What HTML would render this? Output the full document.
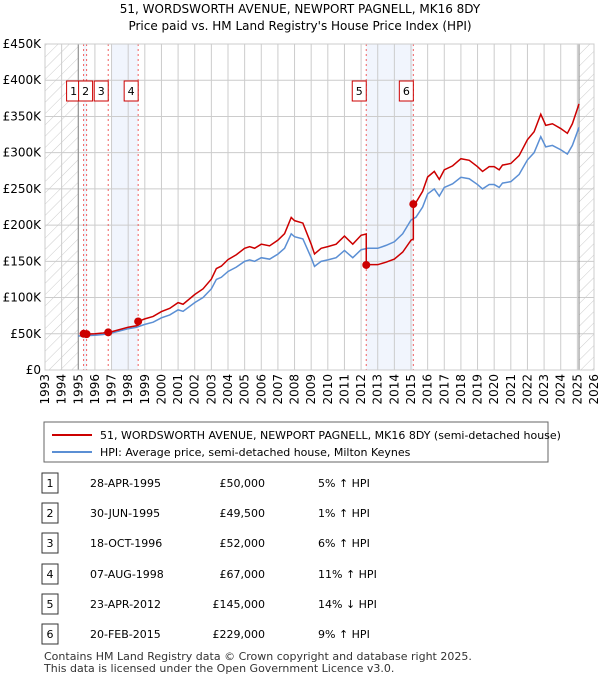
<!DOCTYPE html>
<html><head><meta charset="utf-8"><style>
body{margin:0;background:#fff;font-family:"Liberation Sans","DejaVu Sans",sans-serif;}
svg text{font-family:"DejaVu Sans","Liberation Sans",sans-serif;}
</style></head><body>
<svg width="600" height="680" xmlns="http://www.w3.org/2000/svg" id="c">
<defs><pattern id="hatch" width="8" height="8" patternUnits="userSpaceOnUse" patternTransform="rotate(45)"><line x1="0" y1="0" x2="0" y2="8" stroke="#ccc" stroke-width="1"/></pattern></defs>
<text x="300" y="13" text-anchor="middle" font-size="12">51, WORDSWORTH AVENUE, NEWPORT PAGNELL, MK16 8DY</text>
<text x="300" y="30" text-anchor="middle" font-size="12">Price paid vs. HM Land Registry's House Price Index (HPI)</text>
<g id="plot"></g>
<g>
<rect x="44" y="422" width="504" height="40" fill="#fff" stroke="#666"/>
<line x1="52" y1="435" x2="92" y2="435" stroke="#cc0000" stroke-width="2"/>
<text x="100" y="439" font-size="11">51, WORDSWORTH AVENUE, NEWPORT PAGNELL, MK16 8DY (semi-detached house)</text>
<line x1="52" y1="452" x2="92" y2="452" stroke="#5b8fd4" stroke-width="2"/>
<text x="100" y="456" font-size="11">HPI: Average price, semi-detached house, Milton Keynes</text>
</g>
<g id="table" font-size="11"></g>
<text x="44" y="660" font-size="11" fill="#333">Contains HM Land Registry data © Crown copyright and database right 2025.</text>
<text x="44" y="672" font-size="11" fill="#333">This data is licensed under the Open Government Licence v3.0.</text>
</svg>
<script>
const hpiYears=[1995,1995.5,1996,1996.5,1997,1997.5,1998,1998.5,1999,1999.5,2000,2000.5,2001,2001.3,2002,2002.5,2003,2003.3,2003.6,2004,2004.5,2005,2005.3,2005.6,2006,2006.5,2007,2007.4,2007.8,2008,2008.5,2009,2009.2,2009.6,2010,2010.5,2011,2011.5,2012,2012.4,2013,2013.5,2014,2014.5,2015,2015.3,2015.7,2016,2016.4,2016.7,2017,2017.5,2018,2018.5,2019,2019.3,2019.7,2020,2020.3,2020.5,2021,2021.5,2022,2022.4,2022.8,2023.1,2023.5,2024,2024.4,2024.7,2025.1];
const hpiValues=[47000,47500,48000,49000,51000,54000,57000,59000,63000,66000,72000,76000,83000,81000,93000,100000,112000,125000,128000,136000,142000,150000,152000,150000,155000,153000,160000,168000,188000,184000,181000,155000,143000,150000,152000,155000,165000,155000,166000,168000,168000,172000,177000,188000,207000,211000,225000,243000,250000,240000,252000,257000,266000,264000,256000,250000,256000,256000,252000,258000,260000,270000,290000,300000,322000,308000,310000,304000,298000,310000,335000];
const saleYears=[1995.32,1995.5,1996.8,1998.6,2012.31,2015.14];
const salePrices=[50000,49500,52000,67000,145000,229000];
const saleDates=["28-APR-1995","30-JUN-1995","18-OCT-1996","07-AUG-1998","23-APR-2012","20-FEB-2015"];
const salePriceLabels=["£50,000","£49,500","£52,000","£67,000","£145,000","£229,000"];
const saleHpiLabels=["5% ↑ HPI","1% ↑ HPI","6% ↑ HPI","11% ↑ HPI","14% ↓ HPI","9% ↑ HPI"];
const yTicks=[0,50000,100000,150000,200000,250000,300000,350000,400000,450000];
const yTickLabels=["£0","£50K","£100K","£150K","£200K","£250K","£300K","£350K","£400K","£450K"];
const xTicks=[];for(let y=1993;y<=2026;y++)xTicks.push(y);

const L=45,R=594,T=44,B=370,x0=1993,x1=2026,yMax=450000;
const X=t=>L+(t-x0)/(x1-x0)*(R-L);
const Y=v=>B-v/yMax*(B-T);
const NS="http://www.w3.org/2000/svg";
const plot=document.getElementById('plot');
function mk(tag,attrs,parent){const e=document.createElementNS(NS,tag);for(const k in attrs)e.setAttribute(k,attrs[k]);(parent||plot).appendChild(e);return e;}
function hpiAt(t){for(let i=0;i<hpiYears.length-1;i++){if(t>=hpiYears[i]&&t<=hpiYears[i+1]){const f=(t-hpiYears[i])/(hpiYears[i+1]-hpiYears[i]);return hpiValues[i]+f*(hpiValues[i+1]-hpiValues[i]);}}return hpiValues[hpiValues.length-1];}

// backgrounds
let e=mk('rect',{x:L,y:T,width:X(1995)-L,height:B-T,fill:'url(#hatch)'});

e=mk('rect',{x:X(2025.1),y:T,width:R-X(2025.1),height:B-T,fill:'url(#hatch)'});

const bands=[[saleYears[0],saleYears[1]],[1997.0,saleYears[3]],[saleYears[4],saleYears[5]]];
bands.forEach(b=>{e=mk('rect',{x:X(b[0]),y:T,width:X(b[1])-X(b[0]),height:B-T,fill:'#eef3fc',opacity:0.8});
});
// grid
yTicks.forEach((v,i)=>{e=mk('line',{x1:L,x2:R,y1:Y(v),y2:Y(v),stroke:'#ccc'});

e=mk('text',{x:L-4,y:Y(v)+4,'text-anchor':'end','font-size':12});e.textContent=yTickLabels[i];
});
xTicks.forEach(t=>{e=mk('line',{x1:X(t),x2:X(t),y1:T,y2:B,stroke:'#ccc'});

e=mk('text',{x:0,y:0,'text-anchor':'end','font-size':12,transform:`translate(${X(t)+4},${B+4}) rotate(-90)`});e.textContent=t;
});
e=mk('line',{x1:X(1995),x2:X(1995),y1:T,y2:B,stroke:'#888'});
e=mk('line',{x1:X(2025.1),x2:X(2025.1),y1:T,y2:B,stroke:'#888'});
// sale vlines
saleYears.forEach(t=>{e=mk('line',{x1:X(t),x2:X(t),y1:T,y2:B,stroke:'#f06060','stroke-dasharray':'2,3'});
});
// hpi line
e=mk('polyline',{points:hpiYears.map((t,i)=>X(t)+','+Y(hpiValues[i])).join(' '),fill:'none',stroke:'#5b8fd4','stroke-width':1.5});

// red line
const pts=[];
for(let s=0;s<saleYears.length;s++){
 const ratio=salePrices[s]/hpiAt(saleYears[s]);
 const end=s+1<saleYears.length?saleYears[s+1]:2025.1;
 pts.push([saleYears[s],salePrices[s]]);
 hpiYears.forEach((t,i)=>{if(t>saleYears[s]&&t<end)pts.push([t,hpiValues[i]*ratio]);});
 pts.push([end,hpiAt(end)*ratio]);
}
e=mk('polyline',{points:pts.map(p=>X(p[0])+','+Y(p[1])).join(' '),fill:'none',stroke:'#cc0000','stroke-width':1.5});

saleYears.forEach((t,i)=>{e=mk('circle',{cx:X(t),cy:Y(salePrices[i]),r:4,fill:'#cc0000'});
});
// label boxes
saleYears.forEach((t,i)=>{const bx=X(t)-(i==0?4:(i==1?-1:5))-9;
const g=mk('g',{});
mk('rect',{x:bx-(i==0?4:0),y:81,width:14,height:20,fill:'#fff',stroke:'#cc0000'},g);
const tx=mk('text',{x:bx+7-(i==0?4:0),y:95,'text-anchor':'middle','font-size':11},g);tx.textContent=i+1;});
e=mk('rect',{x:L,y:T,width:R-L,height:B-T,fill:'none',stroke:'#ccc'});
// table
const tb=document.getElementById('table');
const rowsY=[483,513,543,574,604,634];
rowsY.forEach((ry,i)=>{const g=mk('g',{},tb);
mk('rect',{x:42,y:ry-10,width:16,height:20,fill:'#fff',stroke:'#333'},g);
let t=mk('text',{x:50,y:ry+4,'text-anchor':'middle'},g);t.textContent=i+1;
t=mk('text',{x:90,y:ry+4},g);t.textContent=saleDates[i];
t=mk('text',{x:265,y:ry+4,'text-anchor':'end'},g);t.textContent=salePriceLabels[i];
t=mk('text',{x:318,y:ry+4},g);t.textContent=saleHpiLabels[i];});
</script>
</body></html>
